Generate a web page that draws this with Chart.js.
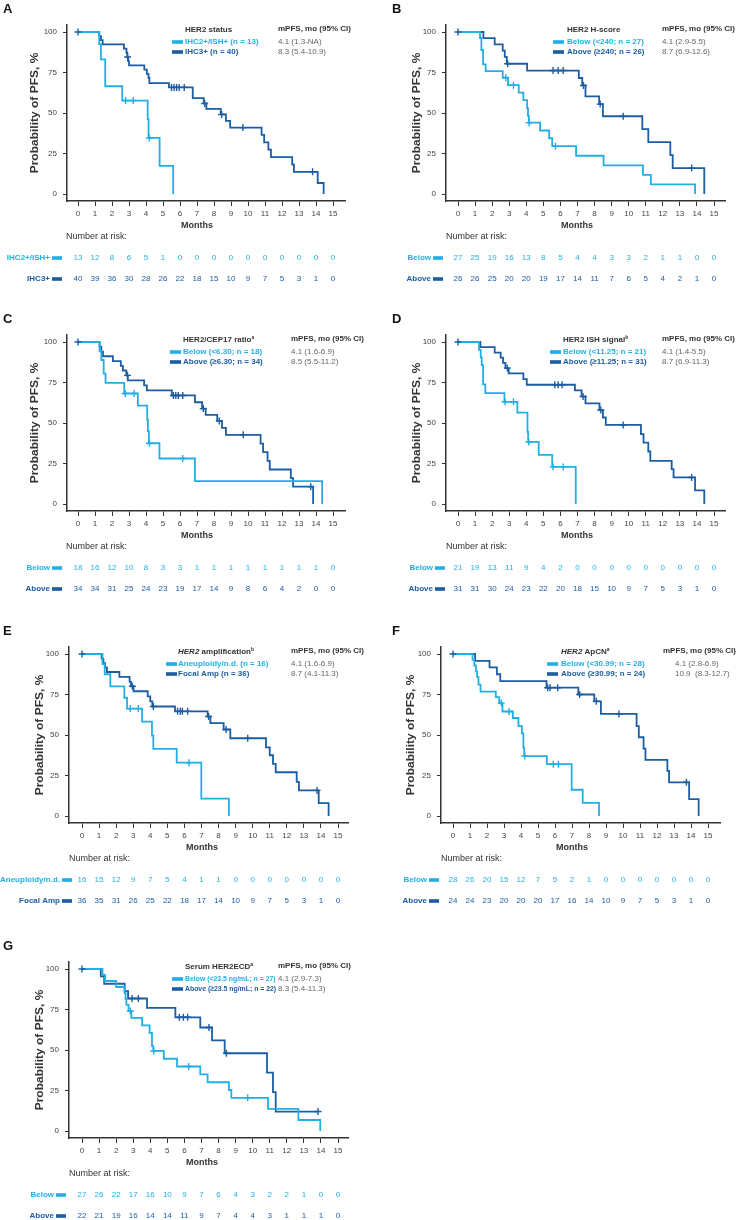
<!DOCTYPE html>
<html><head><meta charset="utf-8">
<script src="https://cdn.jsdelivr.net/npm/chart.js@4.4.1/dist/chart.umd.min.js"></script>
<style>
html,body{margin:0;padding:0;background:#fff;}
body{width:749px;height:1220px;position:relative;overflow:hidden;}
canvas{position:absolute;}
</style></head><body>
<canvas id="cA"></canvas><canvas id="cB"></canvas><canvas id="cC"></canvas><canvas id="cD"></canvas>
<canvas id="cE"></canvas><canvas id="cF"></canvas><canvas id="cG"></canvas>
<script>
// ---------- tick labels ----------
const monthTicks = [0,1,2,3,4,5,6,7,8,9,10,11,12,13,14,15];
const probTicks = [0,25,50,75,100];

// ---------- Panel A: HER2 status ----------
const A_low_t = [0,1.25,1.35,1.6,2.6,4.1,4.15,4.8,5.6];
const A_low_s = [100,92.3,83.1,66.5,57.7,46.2,34.6,17.3,0];
const A_low_cens = [2.8,3.25,4.2];
const A_low_risk = [13,12,8,6,5,1,0,0,0,0,0,0,0,0,0,0];
const A_high_t = [0,1.25,1.35,1.45,2.7,2.85,2.9,2.95,3.0,3.9,4.05,4.15,4.2,5.35,6.75,7.4,7.55,8.4,8.7,8.95,10.8,10.95,11.2,11.35,12.6,12.7,14.1,14.45];
const A_high_s = [100,97.5,95,92.3,89.7,87.2,84.6,82.0,79.4,76.8,74.2,71.6,68.4,65.8,59.2,55.9,52.6,49.1,45.1,41.0,36.5,31.9,27.4,22.8,18.2,13.7,6.8,0];
const A_high_cens = [0,2.92,5.5,5.65,5.8,5.95,6.25,7.45,8.45,9.7,13.8];
const A_high_risk = [40,39,36,30,28,26,22,18,15,10,9,7,5,3,1,0];

// ---------- Panel B: HER2 H-score ----------
const B_low_t = [0,1.29,1.37,1.47,1.62,2.62,2.93,3.56,3.83,4.05,4.1,4.15,4.81,5.34,5.52,6.92,8.53,10.84,11.3,13.89];
const B_low_s = [100,96.3,88.9,80.0,75.9,71.8,67.2,62.6,58.0,53.0,48.3,44.0,39.2,34.4,29.5,23.6,17.7,11.8,5.9,0];
const B_low_cens = [2.8,3.25,4.17,5.71];
const B_low_risk = [27,25,19,16,13,8,5,4,4,3,3,2,1,1,0,0];
const B_high_t = [0,1.49,2.15,2.62,2.74,2.86,4.05,7.08,7.28,7.47,8.27,8.49,10.8,11.15,12.44,12.58,14.43];
const B_high_s = [100,96.2,92.3,88.5,84.6,80.4,76.2,71.6,67.0,60.3,55.5,48.0,40.0,32.0,24.0,16.0,0];
const B_high_cens = [0,2.91,5.57,5.87,6.16,7.35,8.33,9.68,13.69];
const B_high_risk = [26,26,25,20,20,19,17,14,11,7,6,5,4,2,1,0];

// ---------- Panel C: HER2/CEP17 ratio ----------
const C_low_t = [0,1.27,1.37,1.51,1.62,2.72,3.52,4.07,4.11,4.17,4.79,6.88,14.36];
const C_low_s = [100,94.4,88.9,80.5,74.8,68.2,60.7,52.0,45.0,37.5,28.1,14.1,0];
const C_low_cens = [2.78,3.3,4.2,6.16];
const C_low_risk = [18,16,12,10,8,3,3,1,1,1,1,1,1,1,1,0];
const C_high_t = [0,1.27,1.37,1.47,2.05,2.52,2.64,2.84,2.93,3.89,4.05,5.52,6.88,7.3,7.51,8.19,8.47,8.7,10.74,10.89,11.15,11.28,12.52,12.65,13.83];
const C_high_s = [100,97.1,94.1,91.2,88.2,85.3,82.4,79.4,76.3,73.2,70.1,67.0,62.8,58.9,55.0,51.3,47.0,42.7,37.3,32.0,26.6,21.3,16.0,10.7,0];
const C_high_cens = [0,2.91,5.61,5.75,5.9,6.16,7.37,8.31,9.72,13.69];
const C_high_risk = [34,34,31,25,24,23,19,17,14,9,8,6,4,2,0,0];

// ---------- Panel D: HER2 ISH signal ----------
const D_low_t = [0,1.23,1.33,1.39,1.47,1.6,2.72,3.48,4.07,4.11,4.73,5.52,6.9];
const D_low_s = [100,95.2,90.5,85.7,73.8,68.4,63.1,56.4,44.5,38.3,30.3,22.9,0];
const D_low_cens = [2.76,3.25,4.15,5.57,6.16];
const D_low_risk = [21,19,13,11,9,4,2,0,0,0,0,0,0,0,0,0];
const D_high_t = [0,1.31,2.15,2.5,2.64,2.78,2.97,3.83,4.03,6.85,7.24,7.47,8.29,8.49,8.66,10.72,10.87,11.15,11.27,12.52,12.63,13.89,14.43];
const D_high_s = [100,96.8,93.5,90.3,87.1,83.9,80.6,77.1,73.6,70.1,66.4,62.1,58.0,53.4,48.8,43.1,37.9,32.4,26.6,21.5,16.4,8.4,0];
const D_high_cens = [0,2.89,5.67,5.87,6.1,7.33,8.37,9.68,13.69];
const D_high_risk = [31,31,30,24,23,22,20,18,15,10,9,7,5,3,1,0];

// ---------- Panel E: HER2 amplification ----------
const E_low_t = [0,1.2,1.33,1.66,2.48,2.64,3.52,4.1,4.18,5.55,6.99,8.61];
const E_low_s = [100,93.8,87.5,80.0,73.0,66.3,58.3,49.7,41.4,32.9,10.7,0];
const E_low_cens = [2.83,3.3,6.27];
const E_low_risk = [16,15,12,9,7,5,4,1,1,0,0,0,0,0,0,0];
const E_high_t = [0,1.15,1.25,1.35,1.46,2.19,2.79,2.87,3.02,3.85,4.0,4.12,5.45,7.36,7.52,8.3,8.69,10.78,11.0,11.19,11.35,12.58,12.71,13.87,14.45];
const E_high_s = [100,97.2,94.4,91.7,88.9,85.9,82.8,80.1,77.0,73.8,70.7,67.6,64.6,61.4,57.3,53.4,48.0,42.3,37.5,32.2,27.0,21.1,15.8,7.9,0];
const E_high_cens = [0,2.95,4.18,5.6,5.76,5.88,6.19,7.42,8.44,9.71,13.77];
const E_high_risk = [36,35,31,26,25,22,18,17,14,10,9,7,5,3,1,0];

// ---------- Panel F: HER2 ApCN ----------
const F_low_t = [0,1.15,1.25,1.35,1.42,1.5,1.62,2.52,2.72,2.91,3.52,3.85,4.05,4.14,4.19,5.52,6.98,7.63,8.59];
const F_low_s = [100,96.4,92.9,89.3,85.7,81.1,76.8,73.4,69.7,64.5,60.5,55.5,51.0,42.2,37.0,32.0,16.2,8.1,0];
const F_low_cens = [2.84,3.3,4.22,5.9,6.2];
const F_low_risk = [28,26,20,15,12,7,5,2,1,0,0,0,0,0,0,0];
const F_high_t = [0,1.3,2.15,2.58,2.78,5.5,7.37,8.31,8.7,10.8,10.93,11.21,11.32,12.61,12.71,13.89,14.45];
const F_high_s = [100,95.8,91.7,87.5,83.3,79.2,75.0,70.8,63.0,55.5,48.6,41.6,34.7,27.8,20.8,10.4,0];
const F_high_cens = [0,5.57,5.71,6.16,7.45,8.43,9.76,13.73];
const F_high_risk = [24,24,23,20,20,20,17,16,14,10,9,7,5,3,1,0];

// ---------- Panel G: Serum HER2ECD ----------
const G_low_t = [0,1.2,1.35,2.0,2.5,2.55,2.6,2.73,2.89,3.52,3.96,4.1,4.18,4.79,5.57,6.93,7.36,8.61,8.75,10.9,12.68,13.96];
const G_low_s = [100,96.3,92.6,88.9,85.2,81.5,77.8,74.1,69.8,65.2,60.6,52.4,49.4,44.6,39.8,35.0,30.1,25.3,20.5,13.6,6.8,0];
const G_low_cens = [2.83,4.2,6.25,9.71];
const G_low_risk = [27,26,22,17,16,10,9,7,6,4,3,2,2,1,0,0];
const G_high_t = [0,1.1,1.3,2.5,2.7,3.81,5.47,6.93,7.62,8.36,10.84,11.19,11.35,13.83];
const G_high_s = [100,95.5,90.9,86.4,81.8,76.0,70.2,63.9,56.0,48.0,36.0,24.0,12.0,12.0];
const G_high_cens = [0,2.93,3.3,5.7,5.94,6.19,7.44,8.46,13.83];
const G_high_risk = [22,21,19,16,14,14,11,9,7,4,4,3,1,1,1,0];

// ---------- styling / layout ----------
const LIGHT = '#23afe6', DARK = '#1c5da3';
const FONT = "'Liberation Sans', Arial, Helvetica, sans-serif";
const R = {top:25, y100:32, y0:194, axisY:201, title:29, leg1:42, leg2:52, letterTop:3,
           yTitleY:113, monthsY:226, narY:237, risk1:258, risk2:279};
const geoL1 = {x0:78, x15:333, axisX:67, right:345, yTitleX:35, monthsX:197, narX:66};
const geoL2 = {x0:82, x15:338, axisX:69, right:348, yTitleX:40, monthsX:202, narX:69};
const geoR1 = {x0:458, x15:714, axisX:446, right:725, yTitleX:417, monthsX:577, narX:446};
const geoR2 = {x0:453, x15:708, axisX:441, right:720, yTitleX:411, monthsX:572, narX:441};

const panels = [
 {id:'A', cv:{left:0,top:0,w:375,h:292}, dy:0, geo:geoL1, letterX:3, legSx:1,
  title:[{t:'HER2 status'}], leg:{bar:172,text:185,head:278,val:278}, riskBar:52,
  groups:[{name:'IHC2+/ISH+ (n = 13)', rl:'IHC2+/ISH+', m:'4.1 (1.3-NA)', t:A_low_t, s:A_low_s, c:A_low_cens, r:A_low_risk},
          {name:'IHC3+ (n = 40)', rl:'IHC3+', m:'8.3 (5.4-10.9)', t:A_high_t, s:A_high_s, c:A_high_cens, r:A_high_risk}]},
 {id:'B', cv:{left:375,top:0,w:374,h:292}, dy:0, geo:geoR1, letterX:392, legSx:1,
  title:[{t:'HER2 H-score'}], leg:{bar:553,text:567,head:662,val:662}, riskBar:433,
  groups:[{name:'Below (<240; n = 27)', rl:'Below', m:'4.1 (2.9-5.5)', t:B_low_t, s:B_low_s, c:B_low_cens, r:B_low_risk},
          {name:'Above (\u2265240; n = 26)', rl:'Above', m:'8.7 (6.9-12.6)', t:B_high_t, s:B_high_s, c:B_high_cens, r:B_high_risk}]},
 {id:'C', cv:{left:0,top:300,w:375,h:302}, dy:310, geo:geoL1, letterX:3, legSx:1,
  title:[{t:'HER2/CEP17 ratio'},{t:'a',sup:true}], leg:{bar:170,text:183,head:291,val:291}, riskBar:52,
  groups:[{name:'Below (<6.30; n = 18)', rl:'Below', m:'4.1 (1.6-6.9)', t:C_low_t, s:C_low_s, c:C_low_cens, r:C_low_risk},
          {name:'Above (\u22656.30; n = 34)', rl:'Above', m:'8.5 (5.5-11.2)', t:C_high_t, s:C_high_s, c:C_high_cens, r:C_high_risk}]},
 {id:'D', cv:{left:375,top:300,w:374,h:302}, dy:310, geo:geoR1, letterX:392, legSx:1,
  title:[{t:'HER2 ISH signal'},{t:'b',sup:true}], leg:{bar:550,text:563,head:662,val:662}, riskBar:435,
  groups:[{name:'Below (<11.25; n = 21)', rl:'Below', m:'4.1 (1.4-5.5)', t:D_low_t, s:D_low_s, c:D_low_cens, r:D_low_risk},
          {name:'Above (\u226511.25; n = 31)', rl:'Above', m:'8.7 (6.9-11.3)', t:D_high_t, s:D_high_s, c:D_high_cens, r:D_high_risk}]},
 {id:'E', cv:{left:0,top:612,w:375,h:300}, dy:622, geo:geoL2, letterX:3, legSx:1,
  title:[{t:'HER2',i:true},{t:' amplification'},{t:'b',sup:true}], leg:{bar:166,text:178,head:291,val:291}, riskBar:62,
  groups:[{name:'Aneuploidy/n.d. (n = 16)', rl:'Aneuploidy/n.d.', m:'4.1 (1.6-6.9)', t:E_low_t, s:E_low_s, c:E_low_cens, r:E_low_risk},
          {name:'Focal Amp (n = 36)', rl:'Focal Amp', m:'8.7 (4.1-11.3)', t:E_high_t, s:E_high_s, c:E_high_cens, r:E_high_risk}]},
 {id:'F', cv:{left:375,top:612,w:374,h:300}, dy:622, geo:geoR2, letterX:392, legSx:1,
  title:[{t:'HER2',i:true},{t:' ApCN'},{t:'a',sup:true}], leg:{bar:547,text:561,head:663,val:675}, riskBar:429,
  groups:[{name:'Below (<30.99; n = 28)', rl:'Below', m:'4.1 (2.8-6.9)', t:F_low_t, s:F_low_s, c:F_low_cens, r:F_low_risk},
          {name:'Above (\u226530.99; n = 24)', rl:'Above', m:'10.9  (8.3-12.7)', t:F_high_t, s:F_high_s, c:F_high_cens, r:F_high_risk}]},
 {id:'G', cv:{left:0,top:930,w:375,h:290}, dy:937, geo:geoL2, letterX:3, legSx:0.86,
  title:[{t:'Serum HER2ECD'},{t:'a',sup:true}], leg:{bar:172,text:185,head:278,val:278}, riskBar:56,
  groups:[{name:'Below (<23.5 ng/mL; n = 27)', rl:'Below', m:'4.1 (2.9-7.3)', t:G_low_t, s:G_low_s, c:G_low_cens, r:G_low_risk},
          {name:'Above (\u226523.5 ng/mL; n = 22)', rl:'Above', m:'8.3 (5.4-11.3)', t:G_high_t, s:G_high_s, c:G_high_cens, r:G_high_risk}]}
];

function survAt(t, ts, ss){ let v = ss[0]; for (let i=0;i<ts.length;i++){ if (ts[i] <= t + 1e-9) v = ss[i]; } return v; }

function text(ctx, s, x, y, font, color, align, base, sx){
  ctx.save();
  ctx.translate(x, y);
  if (sx) ctx.scale(sx, 1);
  ctx.font = font; ctx.fillStyle = color; ctx.textAlign = align || 'left'; ctx.textBaseline = base || 'middle';
  ctx.fillText(s, 0, 0);
  ctx.restore();
}
function rich(ctx, segs, x, y, size, color){
  let cx = x; ctx.textAlign = 'left'; ctx.textBaseline = 'alphabetic'; ctx.fillStyle = color;
  segs.forEach(s => {
    const sz = s.sup ? size*0.62 : size;
    ctx.font = (s.i ? 'italic ' : '') + 'bold ' + sz + 'px ' + FONT;
    ctx.fillText(s.t, cx, s.sup ? y - size*0.38 : y);
    cx += ctx.measureText(s.t).width;
  });
}

function build(p){
  const g = p.geo, dy = p.dy, cv = p.cv;
  const ppm = (g.x15 - g.x0) / 15;
  const xmin = -(g.x0 - g.axisX) / ppm, xmax = 15 + (g.right - g.x15) / ppm;
  const ppp = (R.y0 - R.y100) / 100;
  const ymin = -(R.axisY - R.y0) / ppp, ymax = 100 + (R.y100 - R.top) / ppp;
  const el = document.getElementById('c' + p.id);
  el.width = cv.w; el.height = cv.h; el.style.left = cv.left + 'px'; el.style.top = cv.top + 'px';
  const X = v => v - cv.left, Y = v => v + dy - cv.top;
  const xScaleH = 22;
  const datasets = [];
  p.groups.forEach((gr, i) => {
    const color = i === 0 ? LIGHT : DARK;
    datasets.push({type:'line', data: gr.t.map((t,k) => ({x:t, y:gr.s[k]})), stepped:true,
      borderColor:color, borderWidth:1.8, pointRadius:0, fill:false, order: 2 + i});
    datasets.push({type:'line', showLine:false, data: gr.c.map(t => ({x:t, y:survAt(t, gr.t, gr.s)})),
      pointStyle:'cross', pointRadius:3.5, pointBorderWidth:1.4, borderColor:color, pointBorderColor:color,
      backgroundColor:color, order: i});
  });
  const deco = {
    id:'deco',
    afterDraw(chart){
      const ctx = chart.ctx, xs = chart.scales.x;
      ctx.save();
      text(ctx, p.id, X(p.letterX), Y(R.letterTop), 'bold 13px ' + FONT, '#111', 'left', 'top');
      rich(ctx, p.title, X(p.leg.text), Y(R.title) + 3, 8, '#333');
      text(ctx, 'mPFS, mo (95% CI)', X(p.leg.head), Y(R.title), 'bold 8px ' + FONT, '#333');
      p.groups.forEach((gr, i) => {
        const color = i === 0 ? LIGHT : DARK;
        const ly = Y(i === 0 ? R.leg1 : R.leg2);
        ctx.fillStyle = color; ctx.fillRect(X(p.leg.bar), ly - 1.8, 11, 3.6);
        text(ctx, gr.name, X(p.leg.text), ly, 'bold 8px ' + FONT, color, 'left', 'middle', p.legSx);
        text(ctx, gr.m, X(p.leg.val), ly, '8px ' + FONT, '#666');
        const ry = Y(i === 0 ? R.risk1 : R.risk2);
        ctx.fillStyle = color; ctx.fillRect(X(p.riskBar), ry - 1.8, 10, 3.6);
        text(ctx, gr.rl, X(p.riskBar - 2), ry, 'bold 8px ' + FONT, color, 'right');
        gr.r.forEach((n, k) => {
          text(ctx, String(n), xs.getPixelForValue(monthTicks[k]), ry, '8px ' + FONT, color, 'center');
        });
      });
      text(ctx, 'Months', X(g.monthsX), Y(R.monthsY), 'bold 9px ' + FONT, '#333', 'center');
      text(ctx, 'Number at risk:', X(g.narX), Y(R.narY), '9px ' + FONT, '#333', 'left');
      ctx.save();
      ctx.translate(X(g.yTitleX), Y(R.yTitleY));
      ctx.rotate(-Math.PI/2);
      ctx.scale(1.2, 1);
      text(ctx, 'Probability of PFS, %', 0, 0, 'bold 10px ' + FONT, '#333', 'center');
      ctx.restore();
      ctx.restore();
    }
  };
  new Chart(el, {
    data: {datasets},
    options: {
      responsive:false, animation:false, devicePixelRatio:1,
      layout: {padding: {left:0, top: R.top + dy - cv.top, right: cv.left + cv.w - g.right,
                         bottom: cv.top + cv.h - (R.axisY + dy) - xScaleH}},
      plugins: {legend:{display:false}, tooltip:{enabled:false}},
      scales: {
        x: {type:'linear', min:xmin, max:xmax,
            afterBuildTicks: s => { s.ticks = monthTicks.map(v => ({value:v})); },
            afterFit: s => { s.height = xScaleH; },
            ticks: {autoSkip:false, maxRotation:0, padding:3, color:'#444', font:{family:FONT, size:8}},
            grid: {display:true, drawOnChartArea:false, drawTicks:true, tickLength:5, tickColor:'#333', tickWidth:1},
            border: {display:true, color:'#333', width:1.5}},
        y: {type:'linear', min:ymin, max:ymax,
            afterBuildTicks: s => { s.ticks = probTicks.map(v => ({value:v})); },
            afterFit: s => { s.width = g.axisX - cv.left; },
            ticks: {padding:6, color:'#444', font:{family:FONT, size:8}},
            grid: {display:true, drawOnChartArea:false, drawTicks:true, tickLength:4, tickColor:'#333', tickWidth:1},
            border: {display:true, color:'#333', width:1.5}}
      }
    },
    plugins: [deco]
  });
}
panels.forEach(build);
</script></body></html>
